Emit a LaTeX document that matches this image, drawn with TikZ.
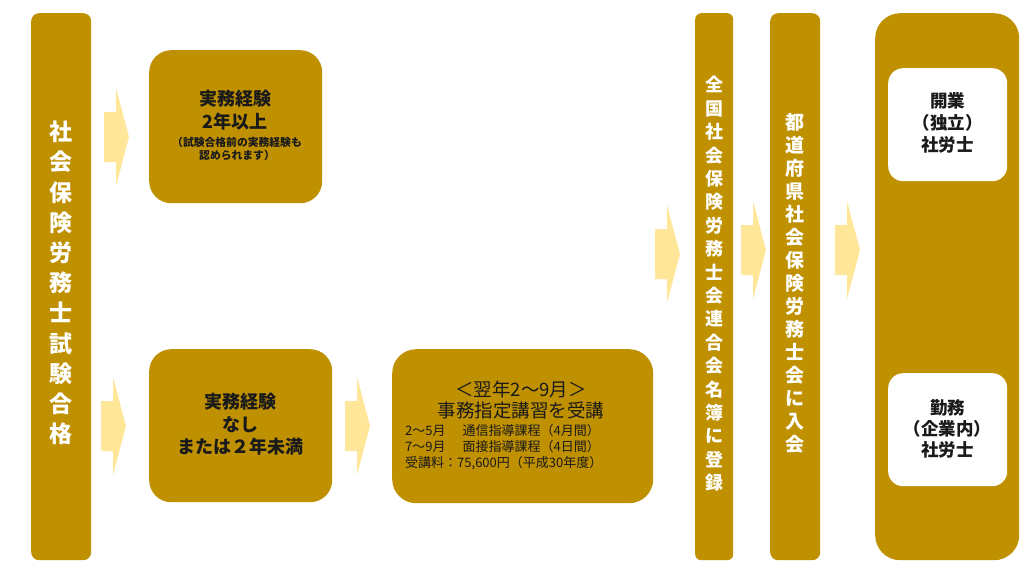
\documentclass[tikz,border=0pt]{standalone}
\usepackage{fontspec}
\setmainfont{Noto Sans CJK JP}
\definecolor{gold}{HTML}{BF9000}
\definecolor{pale}{HTML}{FFE699}
\definecolor{ink}{HTML}{1A1A1A}
\tikzset{
  colbox/.style={fill=gold, draw=none, anchor=north west, inner sep=0pt},
  whitebox/.style={fill=white, draw=none, anchor=north west, inner sep=0pt, rounded corners=15pt},
  vtext/.style={text=white, align=center, inner sep=0pt, font=\bfseries},
  btext/.style={text=ink, align=center, inner sep=0pt},
  bigarrow/.pic={\fill[pale] (-12,-25) -- (0,-25) -- (0,-49) -- (13,0) -- (0,49) -- (0,25) -- (-12,25) -- cycle;}
}
\begin{document}
\begin{tikzpicture}[x=1pt,y=-1pt]
\fill[white] (0,0) rectangle (1024,576);
\useasboundingbox (0,0) rectangle (1024,576);

% left column
\node[colbox, rounded corners=8pt, minimum width=60pt, minimum height=547pt] (exam) at (31,13) {};
\node[vtext, font=\bfseries\fontsize{23}{30.2}\selectfont] (examt) at (61,283)
  {社\\会\\保\\険\\労\\務\\士\\試\\験\\合\\格};

% arrows
\pic (ar1) at (116,137) {bigarrow};
\pic (ar2) at (113,426) {bigarrow};
\pic (ar3) at (357,426) {bigarrow};
\pic (ar4) at (667,254) {bigarrow};
\pic (ar5) at (753,250) {bigarrow};
\pic (ar6) at (847,250) {bigarrow};

% box A
\node[colbox, rounded corners=22pt, minimum width=173pt, minimum height=153pt] (boxa) at (149,50) {};
\node[btext, font=\bfseries\fontsize{18}{23}\selectfont] (boxat) at (235,110) {実務経験\\2年以上};
\node[btext, font=\bfseries\fontsize{10.8}{13.5}\selectfont] (boxas) at (237,149) {（試験合格前の実務経験も\\認められます）};

% box B
\node[colbox, rounded corners=22pt, minimum width=183pt, minimum height=153pt] (boxb) at (149,349) {};
\node[btext, font=\bfseries\fontsize{18}{22.5}\selectfont] (boxbt) at (240,424.5) {実務経験\\なし\\または２年未満};

% box C
\node[colbox, rounded corners=24pt, minimum width=261pt, minimum height=154pt] (boxc) at (392,349) {};
\node[btext, font=\fontsize{18.5}{20.5}\selectfont] (boxct) at (521,400) {＜翌年2～9月＞\\事務指定講習を受講};
\node[btext, align=left, anchor=west, font=\fontsize{13}{16}\selectfont] (boxcd) at (405,447)
  {2～5月\hspace{4pt}　通信指導課程（4月間）\\7～9月\hspace{4pt}　面接指導課程（4日間）\\受講料：75,600円（平成30年度）};

% column D
\node[colbox, rounded corners=6pt, minimum width=38pt, minimum height=547pt] (cold) at (695,13) {};
\node[vtext, font=\bfseries\fontsize{18}{23.4}\selectfont] (coldt) at (714,284)
  {全\\国\\社\\会\\保\\険\\労\\務\\士\\会\\連\\合\\会\\名\\簿\\に\\登\\録};

% column E
\node[colbox, rounded corners=8pt, minimum width=50pt, minimum height=547pt] (cole) at (770,13) {};
\node[vtext, font=\bfseries\fontsize{19}{23}\selectfont] (colet) at (795,283)
  {都\\道\\府\\県\\社\\会\\保\\険\\労\\務\\士\\会\\に\\入\\会};

% column F
\node[colbox, rounded corners=25pt, minimum width=144pt, minimum height=547pt] (colf) at (875,13) {};
\node[whitebox, minimum width=119pt, minimum height=113pt] (open) at (888,68) {};
\node[btext, font=\bfseries\fontsize{17.5}{22}\selectfont] (opent) at (947.5,123) {開業\\（独立）\\社労士};
\node[whitebox, minimum width=119pt, minimum height=113pt] (work) at (888,373) {};
\node[btext, font=\bfseries\fontsize{17.5}{21}\selectfont] (workt) at (947.5,429) {勤務\\（企業内）\\社労士};
\end{tikzpicture}
\end{document}
